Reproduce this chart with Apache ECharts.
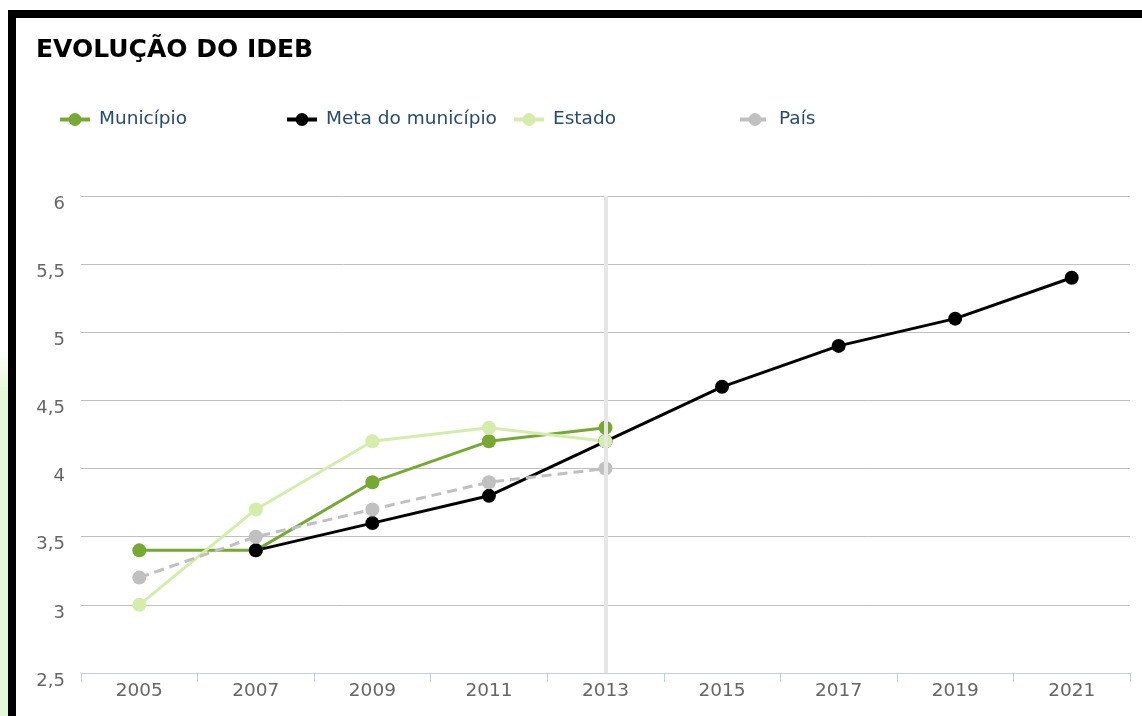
<!DOCTYPE html>
<html>
<head>
<meta charset="UTF-8">
<title>Evolução do IDEB</title>
<script type="text/javascript" src="https://cdn.jsdelivr.net/npm/echarts@6/dist/echarts.min.js"></script>
<style>
	html, body { margin: 0; padding: 0; background: #fff; overflow: hidden; }
	#strip { position: absolute; left: 0; top: 350px; width: 8px; height: 366px;
		background: linear-gradient(to bottom, #fff 0%, #e4f7d6 12%, #e4f7d6 100%); }
	#frame { position: absolute; left: 8px; top: 10px; width: 1142px; height: 720px;
		border-left: 8px solid #000; border-top: 8px solid #000; }
	#main { position: absolute; left: 16px; top: 18px; width: 1126px; height: 698px; }
</style>
</head>
<body>
	<div id="strip"></div>
	<div id="frame"></div>
	<div id="main"></div>
</body>
<script type="text/javascript">
	// dados
	var anos = ['2005', '2007', '2009', '2011', '2013', '2015', '2017', '2019', '2021'];
	var municipio = [3.4, 3.4, 3.9, 4.2, 4.3, null, null, null, null];
	var meta = [null, 3.4, 3.6, 3.8, 4.2, 4.6, 4.9, 5.1, 5.4];
	var estado = [3.0, 3.7, 4.2, 4.3, 4.2, null, null, null, null];
	var pais = [3.2, 3.5, 3.7, 3.9, 4.0, null, null, null, null];
	var anoDestaque = '2013';

	var fonte = 'DejaVu Sans';
	var myChart = echarts.init(document.getElementById('main'));

	function legenda(nome, x) {
		return {
			data: [nome],
			left: x,
			top: 92,
			padding: 0,
			itemWidth: 30,
			itemHeight: 16,
			lineStyle: { width: 4 },
			textStyle: { color: '#274b6d', fontSize: 18.5, fontFamily: fonte, padding: [0, 0, 0, 4] }
		};
	}

	function serie(nome, dados, cor, tipo) {
		return {
			name: nome,
			type: 'line',
			data: dados,
			z: 3,
			symbol: 'circle',
			symbolSize: 14,
			showSymbol: true,
			connectNulls: false,
			itemStyle: { color: cor },
			lineStyle: { color: cor, width: 3, type: tipo || 'solid' }
		};
	}

	var option = {
		animation: false,
		title: {
			text: 'EVOLUÇÃO DO IDEB',
			left: 20,
			top: 20,
			padding: 0,
			textStyle: { color: '#000', fontSize: 25, fontWeight: 'bold', fontFamily: fonte }
		},
		legend: [
			legenda('Município', 42),
			legenda('Meta do município', 269),
			legenda('Estado', 496),
			legenda('País', 722)
		],
		grid: { left: 65, right: 12, top: 178, bottom: 43 },
		xAxis: {
			type: 'category',
			data: anos,
			boundaryGap: true,
			axisLine: { lineStyle: { color: '#c0d0e0', width: 1 } },
			axisTick: { show: true, interval: 0, length: 9, lineStyle: { color: '#c0d0e0' } },
			axisLabel: { color: '#666', fontSize: 18.5, fontFamily: fonte, margin: 9 },
			splitLine: { show: false }
		},
		yAxis: {
			type: 'value',
			min: 2.5,
			max: 6,
			interval: 0.5,
			axisLine: { show: false },
			axisTick: { show: false },
			axisLabel: {
				color: '#666', fontSize: 18, fontFamily: fonte, margin: 16,
				verticalAlign: 'top', lineHeight: 16,
				formatter: function (v) { return String(v).replace('.', ','); }
			},
			splitLine: { lineStyle: { color: '#c0c0c0', width: 1 } }
		},
		series: [
			{
				// linha vertical do ano em destaque
				name: 'destaque',
				type: 'line',
				data: [],
				z: 1,
				markLine: {
					silent: true,
					symbol: 'none',
					label: { show: false },
					lineStyle: { color: '#e6e6e6', width: 4, type: 'solid' },
					data: [{ xAxis: anoDestaque }]
				}
			},
			serie('Município', municipio, '#76a932'),
			serie('Meta do município', meta, '#000000'),
			serie('Estado', estado, '#d5edaa'),
			serie('País', pais, '#c0c0c0', [10, 6])
		]
	};
	myChart.setOption(option);
</script>
</html>
